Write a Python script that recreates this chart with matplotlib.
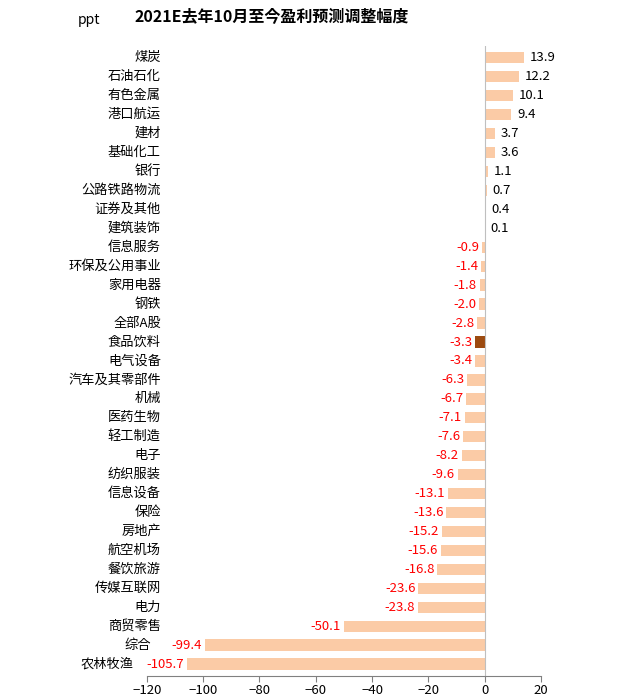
import matplotlib.pyplot as plt
from matplotlib import font_manager

cjk = [f.name for f in font_manager.fontManager.ttflist if "CJK" in f.name]
cjk_name = next((n for n in cjk if "SC" in n), cjk[0] if cjk else "DejaVu Sans")
plt.rcParams["font.family"] = [cjk_name, "DejaVu Sans"]

industries = ["煤炭", "石油石化", "有色金属", "港口航运", "建材", "基础化工", "银行",
              "公路铁路物流", "证券及其他", "建筑装饰", "信息服务", "环保及公用事业",
              "家用电器", "钢铁", "全部A股", "食品饮料", "电气设备", "汽车及其零部件",
              "机械", "医药生物", "轻工制造", "电子", "纺织服装", "信息设备", "保险",
              "房地产", "航空机场", "餐饮旅游", "传媒互联网", "电力", "商贸零售",
              "综合", "农林牧渔"]
changes = [13.9, 12.2, 10.1, 9.4, 3.7, 3.6, 1.1, 0.7, 0.4, 0.1, -0.9, -1.4,
           -1.8, -2.0, -2.8, -3.3, -3.4, -6.3, -6.7, -7.1, -7.6, -8.2, -9.6,
           -13.1, -13.6, -15.2, -15.6, -16.8, -23.6, -23.8, -50.1, -99.4, -105.7]
highlight = "食品饮料"

fig = plt.figure(figsize=(6.17, 7), dpi=100)
ax = fig.add_axes([0.238, 0.035, 0.639, 0.90])

ys = list(range(len(industries)))
colors = ["#9C4A10" if n == highlight else "#FBCBA6" for n in industries]
ax.barh(ys, changes, color=colors, height=0.6)
ax.axvline(0, color="#BFBFBF", lw=0.8)

for y, name, v in zip(ys, industries, changes):
    if v >= 0:
        ax.text(v + 2, y, f"{v:.1f}", va="center", ha="left", fontsize=9.5, color="black")
    else:
        ax.text(v - 1, y, f"{v:.1f}", va="center", ha="right", fontsize=9.5, color="#FF0000")
    ax.text(min(-115, v - 19), y, name, va="center", ha="right", fontsize=9.5, clip_on=False)

ax.set_xlim(-120, 20)
ax.set_ylim(len(industries) - 0.4, -0.65)
ax.set_xticks(range(-120, 21, 20))
ax.tick_params(axis="x", direction="out", length=4, labelsize=9.5, color="#808080", pad=2)
ax.set_yticks([])
for s in ["top", "right", "left"]:
    ax.spines[s].set_visible(False)
ax.spines["bottom"].set_color("#808080")

fig.text(0.44, 0.976, "2021E去年10月至今盈利预测调整幅度", ha="center", va="center",
         fontsize=11.5, fontweight="bold")
fig.text(0.145, 0.972, "ppt", ha="center", va="center", fontsize=10)

fig.savefig("out.png", dpi=100)
